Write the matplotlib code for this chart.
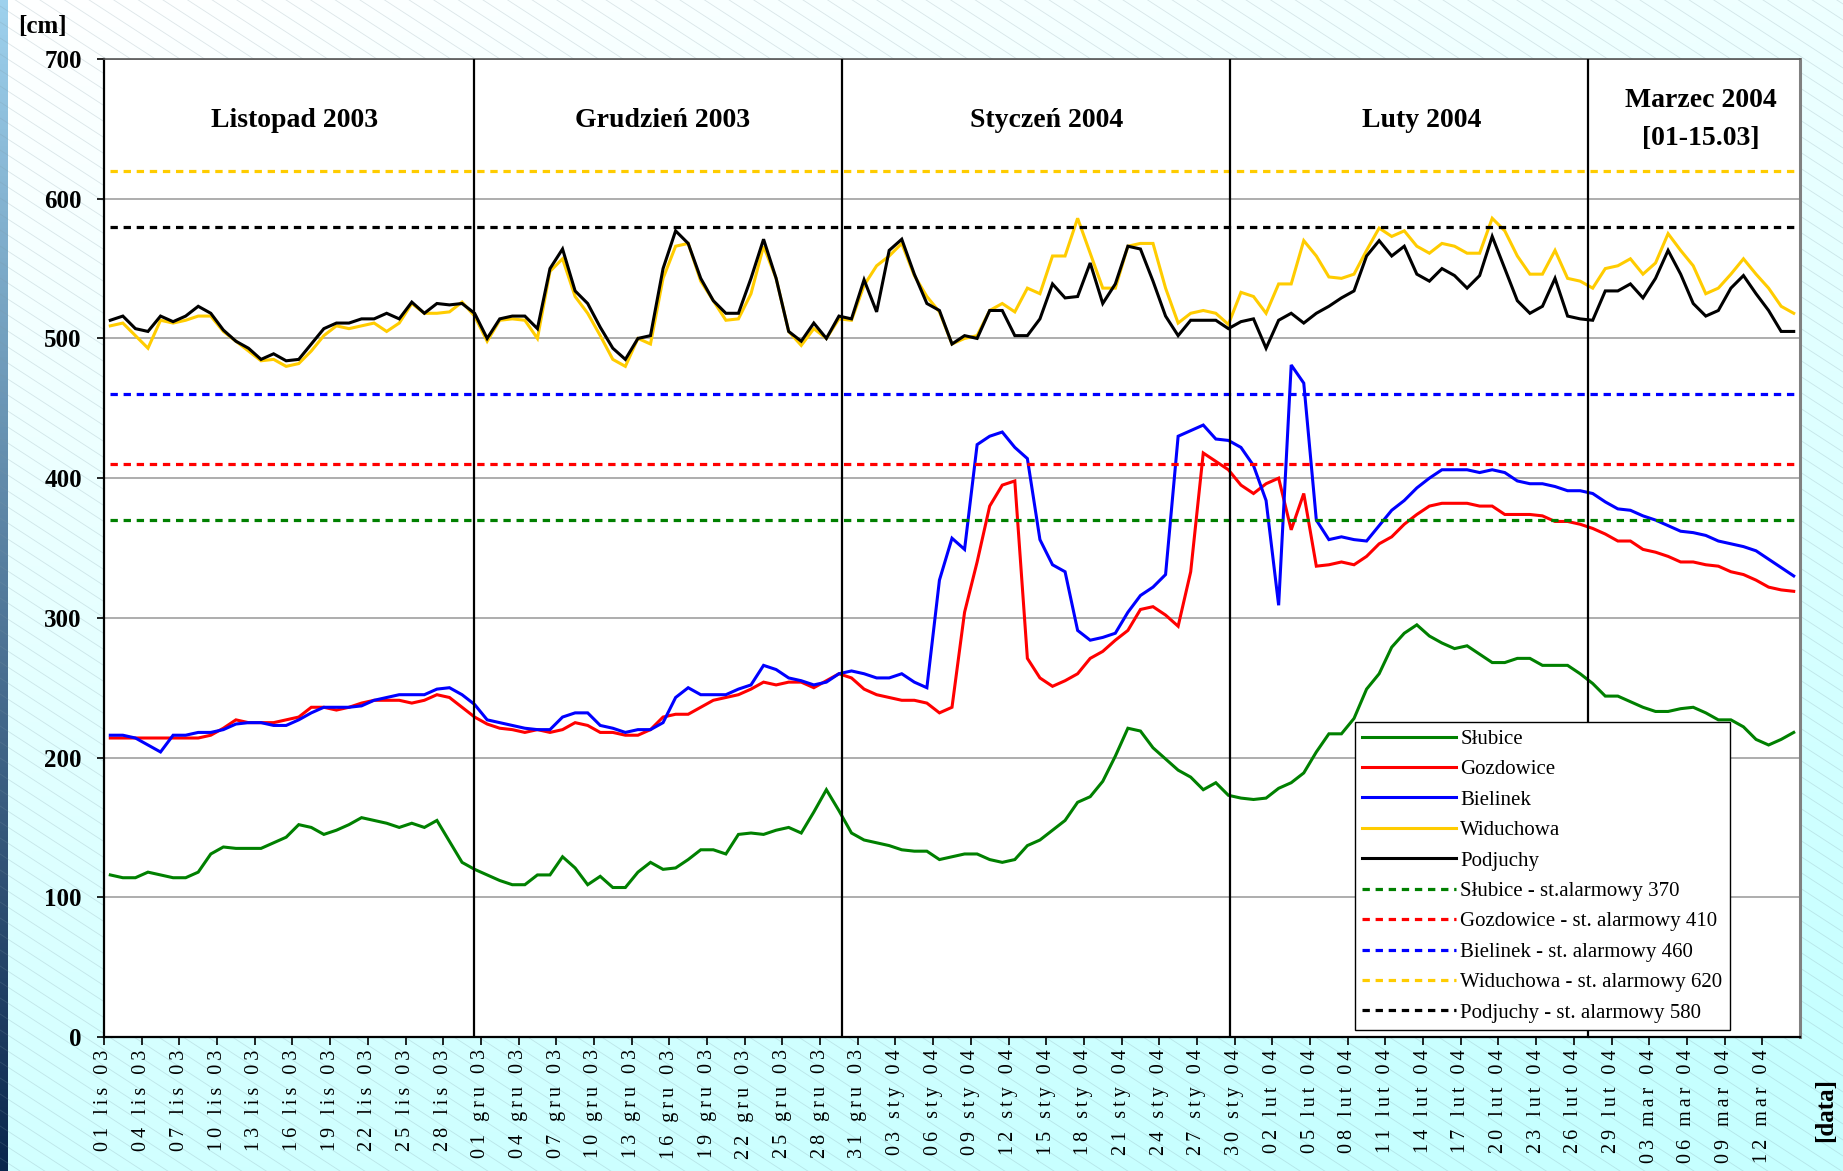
#!/usr/bin/env python3
"""Stany wody na dolnej Odrze, 01.11.2003 - 14.03.2004."""
import numpy as np
import pandas as pd
import matplotlib
matplotlib.use('Agg')
import matplotlib.pyplot as plt
from matplotlib.lines import Line2D

SERIF = ['Liberation Serif', 'DejaVu Serif']
plt.rcParams.update({
    'font.family': SERIF,
    'font.size': 15,
    'axes.linewidth': 1.5,
})

# --- Data: daily water stages [cm] ---
start_date = '2003-11-01'

slubice = [116, 114, 114, 118, 116, 114, 114, 118, 131, 136, 135, 135, 135, 139, 143, 152, 150, 145,
           148, 152, 157, 155, 153, 150, 153, 150, 155, 140, 125, 120, 116, 112, 109, 109, 116, 116,
           129, 121, 109, 115, 107, 107, 118, 125, 120, 121, 127, 134, 134, 131, 145, 146, 145, 148,
           150, 146, 161, 177, 162, 146, 141, 139, 137, 134, 133, 133, 127,
           129, 131, 131, 127, 125, 127, 137, 141, 148, 155, 168, 172, 183,
           201, 221, 219, 207, 199, 191, 186, 177, 182, 173, 171, 170, 171, 178, 182, 189, 204, 217, 217,
           228, 249, 260, 279, 289, 295, 287, 282, 278, 280, 274, 268, 268, 271, 271, 266, 266, 266,
           260, 253, 244, 244, 240, 236, 233, 233, 235, 236, 232, 227, 227, 222, 213, 209, 213, 218]

gozdowice = [214, 214, 214, 214, 214, 214, 214, 214, 216, 221, 227, 225, 225, 225, 227, 229, 236, 236,
             234, 236, 239, 241, 241, 241, 239, 241, 245, 243, 236, 229, 224, 221, 220, 218, 220, 218,
             220, 225, 223, 218, 218, 216, 216, 220, 229, 231, 231, 236, 241, 243, 245, 249, 254, 252,
             254, 254, 250, 255, 260, 257, 249, 245, 243, 241, 241, 239, 232, 236,
             304, 340, 380, 395, 398, 271, 257, 251, 255, 260, 271, 276, 284, 291, 306, 308, 302, 294,
             333, 418, 412, 406, 395, 389, 396, 400, 363, 389, 337, 338, 340,
             338, 344, 353, 358, 367, 374, 380, 382, 382, 382, 380, 380, 374, 374, 374, 373, 369, 369,
             367, 364, 360, 355, 355, 349, 347, 344, 340, 340, 338, 337, 333, 331, 327, 322, 320, 319]

bielinek = [216, 216, 214, 209, 204, 216, 216, 218, 218, 220, 224, 225, 225, 223, 223, 227, 232, 236,
            236, 236, 237, 241, 243, 245, 245, 245, 249, 250, 245, 238, 227, 225, 223, 221, 220, 220,
            229, 232, 232, 223, 221, 218, 220, 220, 225, 243, 250, 245, 245, 245, 249, 252, 266, 263,
            257, 255, 252, 254, 260, 262, 260, 257, 257, 260, 254, 250,
            327, 357, 349, 424, 430, 433, 422, 414, 356, 338, 333, 291, 284, 286, 289, 304, 316, 322,
            331, 430, 434, 438, 428, 427, 422, 409, 384, 309, 481, 468, 370, 356, 358,
            356, 355, 366, 377, 384, 393, 400, 406, 406, 406, 404, 406, 404, 398, 396, 396, 394, 391,
            391, 389, 383, 378, 377, 373, 370, 366, 362, 361, 359, 355, 353, 351, 348, 342, 336, 330]

widuchowa = [509, 511, 502, 493, 513, 511, 513, 516, 516, 505, 498, 491, 484, 485, 480, 482, 491, 502,
             509, 507, 509, 511, 505, 511, 525, 518, 518, 519, 526, 516, 498, 513, 514, 513, 500, 548,
             557, 530, 518, 502, 485, 480, 500, 496, 543, 566,
             568, 541, 527, 513, 514, 532, 566, 543, 505, 495, 507, 500, 514, 513, 538, 552, 559, 568,
             545, 530, 519, 496, 500, 502, 520, 525, 519, 536, 532, 559, 559, 586, 561, 536, 536, 566,
             568, 568, 536, 511, 518, 520, 518, 510, 533,
             530, 518, 539, 539, 570, 559, 544, 543, 546, 563, 579, 573, 577, 566, 561, 568, 566, 561,
             561, 586, 577, 559, 546, 546, 563, 543, 541, 536, 550, 552, 557, 546, 554, 575, 563, 552,
             532, 536, 546, 557, 546, 536, 523, 518]

podjuchy = [513, 516, 507, 505, 516, 512, 516, 523, 518, 506, 498, 493, 485, 489, 484, 485, 496, 507,
            511, 511, 514, 514, 518, 514, 526, 518, 525, 524, 525, 518, 500, 514, 516, 516, 507, 550,
            564, 534, 525, 508, 493, 485, 500, 502, 550, 577,
            568, 543, 527, 518, 518, 543, 571, 543, 505, 498, 511, 500, 516, 514, 542, 519, 563, 571,
            546, 525, 520, 496, 502, 500, 520, 520, 502, 502, 514, 539, 529, 530, 554, 525, 539, 566,
            564, 541, 516, 502, 513, 513, 513, 507, 512,
            514, 493, 513, 518, 511, 518, 523, 529, 534, 559, 570, 559, 566, 546, 541, 550, 545, 536,
            545, 573, 550, 527, 518, 523, 543, 516, 514, 513, 534, 534, 539, 529, 543, 563, 546, 525,
            516, 520, 536, 545, 532, 520, 505, 505]

stations = ['Słubice', 'Gozdowice', 'Bielinek', 'Widuchowa', 'Podjuchy']
series = [slubice, gozdowice, bielinek, widuchowa, podjuchy]
alarm_levels = [370, 410, 460, 620, 580]
alarm_labels = ['Słubice - st.alarmowy 370', 'Gozdowice - st. alarmowy 410',
                'Bielinek - st. alarmowy 460', 'Widuchowa - st. alarmowy 620',
                'Podjuchy - st. alarmowy 580']
colors = ['#008000', '#ff0000', '#0000ff', '#ffcc00', '#000000']

month_titles = ['Listopad 2003', 'Grudzień 2003', 'Styczeń 2004', 'Luty 2004']
month_title_x = [14.7, 44.0, 74.5, 104.4]
month_breaks = [28.95, 58.27, 89.1, 117.6]   # hand-drawn dividers, in day index
pl_months = {11: 'lis', 12: 'gru', 1: 'sty', 2: 'lut', 3: 'mar'}

n = len(podjuchy)
dates = pd.date_range(start_date, periods=n, freq='D')
x = np.arange(n)

# --- Figure + slide-like background ---
W, H = 1843, 1171
fig = plt.figure(figsize=(W / 100, H / 100), dpi=100)

bg = fig.add_axes([0, 0, 1, 1], zorder=-10)
bg.set_axis_off()
yy, xx = np.mgrid[0:1:300j, 0:1:400j]
t = np.clip(0.8 * yy + 0.3 * xx, 0, 1)[..., None]
img = np.array([1.0, 1.0, 1.0]) * (1 - t) + np.array([0.78, 1.0, 1.0]) * t
bg.imshow(img, extent=[0, W, 0, H], aspect='auto', origin='upper')
for c in np.arange(-W, H + W, 16):
    bg.plot([0, W], [c, c - 0.65 * W], color='#7d98a4', lw=0.6, alpha=0.25)
strip = np.linspace(0, 1, 200)[:, None, None]
strip_img = np.array([0.62, 0.82, 0.93]) * (1 - strip) + np.array([0.04, 0.15, 0.30]) * strip
bg.imshow(strip_img, extent=[0, 8, 0, H], aspect='auto', origin='upper')
bg.set_xlim(0, W)
bg.set_ylim(0, H)

# --- Main plot ---
ax = fig.add_axes([104 / W, (H - 1037) / H, 1696 / W, 978 / H])
ax.set_facecolor('white')

for vals, col, name in zip(series, colors, stations):
    ax.plot(x, vals, color=col, lw=2.2, label=name, zorder=3, solid_joinstyle='miter')

dash = (0, (2.3, 1.8))
for lvl, col in zip(alarm_levels, colors):
    ax.hlines(lvl, x[0], x[-1], colors=col, lw=2.3, linestyles=[dash], zorder=4)

for xb in month_breaks:
    ax.axvline(xb, color='black', lw=1.6, zorder=5)

for title, xt in zip(month_titles, month_title_x):
    ax.text(xt, 656, title, ha='center', va='center', fontsize=20, fontweight='bold')
ax.text(126.6, 670, 'Marzec 2004', ha='center', va='center', fontsize=20, fontweight='bold')
ax.text(126.6, 643, '[01-15.03]', ha='center', va='center', fontsize=20, fontweight='bold')

ax.set_xlim(-0.5, n - 0.5)
ax.set_ylim(0, 700)
ax.set_yticks(range(0, 701, 100))
ax.set_yticklabels([str(v) for v in range(0, 701, 100)], fontsize=18, fontweight='bold')
ax.grid(axis='y', color='#a0a0a0', lw=1.2, zorder=0)
ax.set_axisbelow(True)

tick_idx = np.arange(0, n, 3)
labels = ['\u2009'.join(f'{d.day:02d} {pl_months[d.month]} {d.year % 100:02d}')
          for d in dates[tick_idx]]
ax.set_xticks(tick_idx - 0.5)
ax.set_xticklabels(labels, rotation=90, ha='center', va='top', fontsize=14.5)
ax.tick_params(axis='x', direction='out', length=6, width=1.2, pad=3)
ax.tick_params(axis='y', direction='out', length=5, width=1.2, pad=11)

for side in ['left', 'bottom']:
    ax.spines[side].set_color('black')
    ax.spines[side].set_linewidth(1.6)
ax.spines['top'].set_color('#555555')
ax.spines['top'].set_linewidth(1.2)
ax.spines['right'].set_color('#808080')
ax.spines['right'].set_linewidth(2.2)

fig.text(42 / W, 1 - 27 / H, '[cm]', ha='center', va='center', fontsize=18, fontweight='bold')
fig.text(1826 / W, 1 - 1110 / H, '[data]', ha='center', va='center', rotation=90,
         fontsize=18, fontweight='bold')

# --- Legend ---
handles = [Line2D([], [], color=c, lw=2.2) for c in colors]
handles += [Line2D([], [], color=c, lw=2.3, linestyle=dash) for c in colors]
leg = ax.legend(handles, stations + alarm_labels, loc='upper left',
                bbox_to_anchor=((1355 - 104) / 1696, (1037 - 722) / 978),
                borderaxespad=0, fontsize=15, frameon=True, fancybox=False,
                edgecolor='black', framealpha=1, handlelength=4.5, handletextpad=0.2,
                labelspacing=0.52, borderpad=0.35)
leg.get_frame().set_linewidth(1.0)
leg.set_zorder(10)

fig.savefig('out.png', dpi=100)
plt.close()
print('saved out.png')
